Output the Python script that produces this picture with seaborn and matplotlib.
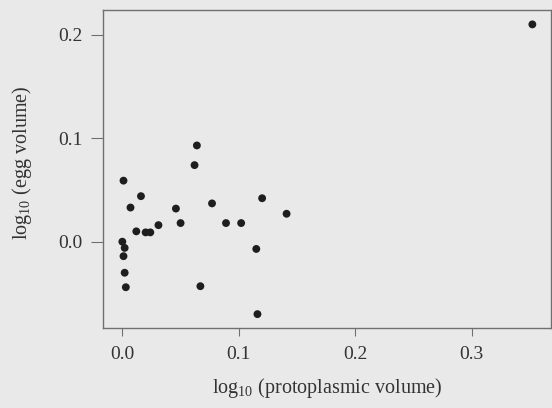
import numpy as np
import pandas as pd
import matplotlib
matplotlib.use('Agg')
import matplotlib.pyplot as plt
import seaborn as sns

# values
log_proto = [0.352, 0.064, 0.062, 0.001, 0.016, 0.120, 0.007, 0.077, 0.046,
             0.141, 0.050, 0.089, 0.102, 0.012, 0.020, 0.024, 0.031, 0.000,
             0.002, 0.001, 0.002, 0.003, 0.067, 0.115, 0.116]
log_egg = [0.210, 0.093, 0.074, 0.059, 0.044, 0.042, 0.033, 0.037, 0.032,
           0.027, 0.018, 0.018, 0.018, 0.010, 0.009, 0.009, 0.016, 0.000,
           -0.006, -0.014, -0.030, -0.044, -0.043, -0.007, -0.070]

x_ticks = [0.0, 0.1, 0.2, 0.3]
y_ticks = [0.0, 0.1, 0.2]

df = pd.DataFrame({'proto': log_proto, 'egg': log_egg})

sns.set_style('white')
plt.rcParams['font.family'] = ['Liberation Serif', 'DejaVu Serif']
plt.rcParams['mathtext.fontset'] = 'custom'
plt.rcParams['mathtext.rm'] = 'Liberation Serif'

bg = '#e9e9e9'
fig = plt.figure(figsize=(5.52, 4.08), dpi=100, facecolor=bg)
ax = fig.add_axes([103 / 552, 1 - 328 / 408, 448 / 552, 318 / 408])
ax.set_facecolor(bg)

sns.scatterplot(data=df, x='proto', y='egg', ax=ax, s=32, color='#1e1e1e',
                edgecolor='none', legend=False)

ax.set_xlim(-0.0166, 0.368)
ax.set_ylim(-0.0834, 0.2239)
ax.set_xticks(x_ticks)
ax.set_yticks(y_ticks)
ax.set_xticklabels([f'{t:.1f}' for t in x_ticks])
ax.set_yticklabels([f'{t:.1f}' for t in y_ticks])

for sp in ax.spines.values():
    sp.set_visible(True)
    sp.set_color('#707070')
    sp.set_linewidth(1.0)

ax.tick_params(axis='x', bottom=True, direction='out', length=6, width=0.8,
               color='#707070', pad=7, labelsize=14, labelcolor='#333333')
ax.tick_params(axis='y', left=True, direction='out', length=9, width=0.8,
               color='#707070', pad=6, labelsize=14, labelcolor='#333333')

ax.set_xlabel(r'$\mathrm{log}_{10}$ (protoplasmic volume)', fontsize=14.5,
              color='#333333', labelpad=9)
ax.set_ylabel(r'$\mathrm{log}_{10}$ (egg volume)', fontsize=14.5,
              color='#333333')
ax.yaxis.set_label_coords(-0.155, 0.52)

fig.savefig('out.png', dpi=100, facecolor=bg)
